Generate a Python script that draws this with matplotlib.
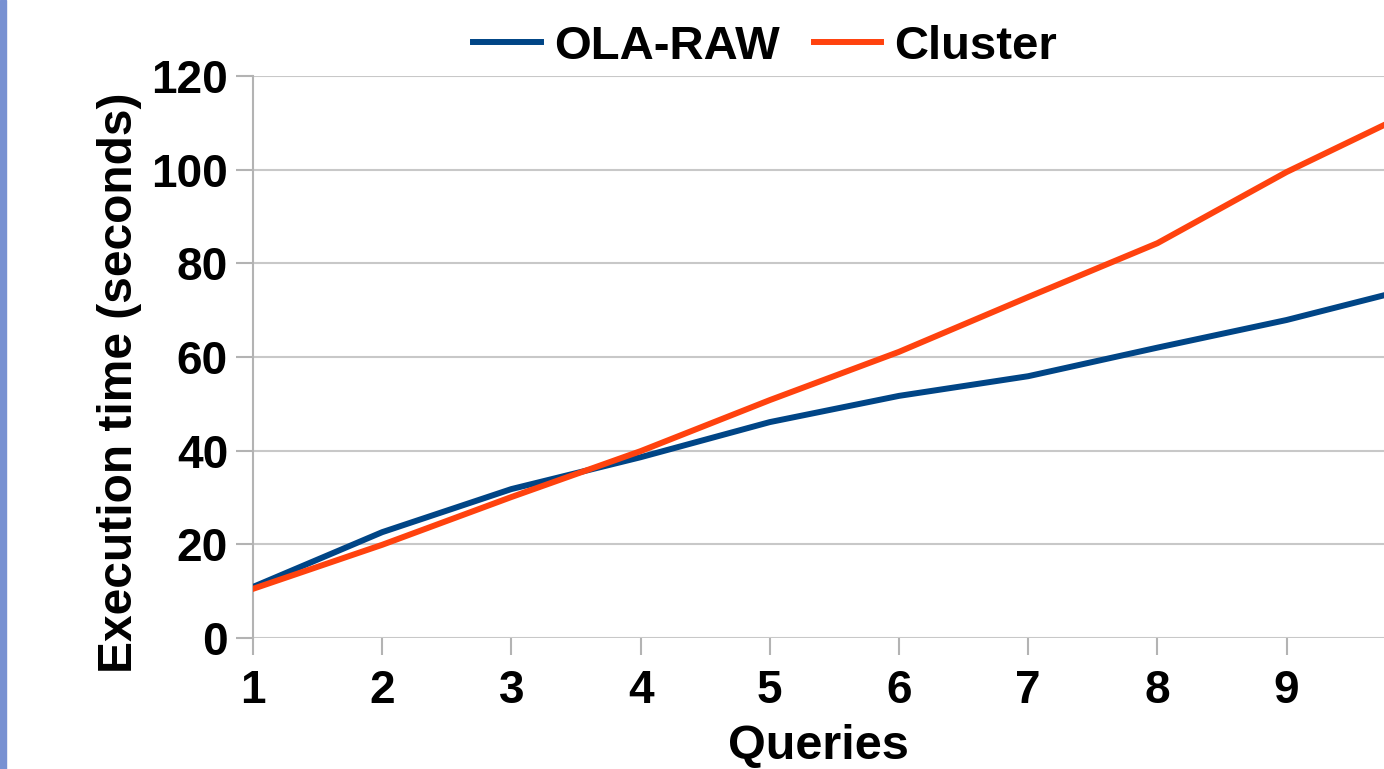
import matplotlib
matplotlib.use('Agg')
import matplotlib.pyplot as plt
from matplotlib.patches import Rectangle

# data
queries = [1, 2, 3, 4, 5, 6, 7, 8, 9, 10]
ola_raw = [10.9, 22.6, 31.8, 38.6, 46.1, 51.7, 55.9, 62.0, 67.9, 74.9]
cluster = [10.5, 19.9, 30.1, 39.9, 50.8, 61.1, 72.8, 84.3, 99.5, 112.8]
yticks = [0, 20, 40, 60, 80, 100, 120]
xticks = [1, 2, 3, 4, 5, 6, 7, 8, 9]

plt.rcParams['font.family'] = ['Liberation Sans', 'DejaVu Sans']
plt.rcParams['font.weight'] = 'bold'

W, H = 1384, 769
fig = plt.figure(figsize=(W / 100, H / 100), dpi=100)
ax = fig.add_axes([253 / W, 1 - 638 / H, 1 - 253 / W, (638 - 76) / H])

# left edge strip
fig.patches.append(Rectangle((0, 0), 6 / W, 1, transform=fig.transFigure,
                             color='#7891d2', zorder=0))

ax.plot(queries, ola_raw, color='#004586', lw=4.3, label='OLA-RAW', zorder=3)
ax.plot(queries, cluster, color='#ff420e', lw=4.3, label='Cluster', zorder=3)

ax.set_xlim(1, 1 + (1384 - 253) / 129.2)
ax.set_ylim(0, 120)
ax.set_xticks(xticks)
ax.set_yticks(yticks)
ax.grid(axis='y', color='#c8c8c8', lw=1.5, zorder=0)

for s in ['top', 'right', 'bottom']:
    ax.spines[s].set_visible(False)
ax.spines['left'].set_color('#b3b3b3')
ax.spines['left'].set_linewidth(1.5)
ax.tick_params(axis='both', length=12, width=1.5, color='#b3b3b3',
               labelsize=33, pad=6)
ax.tick_params(axis='x', pad=10)
for lab in ax.get_xticklabels() + ax.get_yticklabels():
    lab.set_fontweight('bold')

ax.set_xlabel('Queries', fontsize=35, fontweight='bold', labelpad=8)
ax.set_ylabel('Execution time (seconds)', fontsize=34.5, fontweight='bold')
ax.yaxis.set_label_coords(-0.098, 0.454)

fig.legend(loc='center', bbox_to_anchor=(765 / W, 1 - 47 / H), ncol=2,
           frameon=False, handlelength=1.42, handletextpad=0.28,
           columnspacing=0.72, prop={'weight': 'bold', 'size': 34})

fig.savefig('out.png', dpi=100)
